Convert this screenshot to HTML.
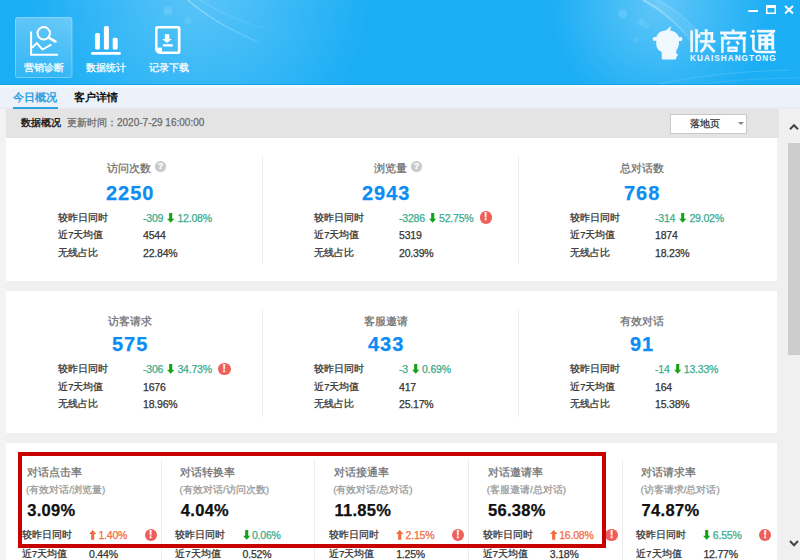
<!DOCTYPE html>
<html><head><meta charset="utf-8">
<style>
@font-face{font-family:"LSC";src:local("Liberation Sans");size-adjust:133%;ascent-override:68%;descent-override:16%;line-gap-override:0%;unicode-range:U+3000-9FFF,U+FF00-FFEF}
*{margin:0;padding:0;box-sizing:border-box}
html,body{width:800px;height:560px;overflow:hidden}
body{position:relative;background:#f0f0f0;font-family:"LSC","Liberation Sans",sans-serif;color:#333;-webkit-text-stroke:.25px currentColor}
.a{position:absolute;white-space:nowrap}
#hdr{left:0;top:0;width:800px;height:85px;background:#1caef5;overflow:hidden}
.nav{color:#fff;font-size:10px;line-height:12px}
#tabs{left:0;top:85px;width:800px;height:24px;background:linear-gradient(#fafcff 0,#f7fafd 1.5px,#e9f2fa 4px,#edf1f9 8px,#edf1f9 21.5px,#e6e9ee 24px)}
#sec{left:6px;top:109px;width:773px;height:29px;background:#e4e4e4}
.card{background:#fff}
.sep{background:#ececec;width:1px}
.ttl{font-size:11.4px;color:#6e6e6e;line-height:14px}
.big{font-size:20px;font-weight:bold;color:#0c8df4;line-height:22px;letter-spacing:1px}
.lb{font-size:9.8px;color:#333;line-height:12px}
.v{font-size:10.5px;color:#333;line-height:12px;letter-spacing:-.2px}
.g{color:#3aac8d}
.o{color:#f26b3e}
.q{width:11px;height:11px;border-radius:50%;background:#c9c9c9;color:#fff;font-size:9px;font-weight:bold;line-height:11px;text-align:center}
.ex{width:12.5px;height:12.5px;border-radius:50%;background:#ef5f5a;color:#fff;font-size:10px;font-weight:bold;line-height:12.5px;text-align:center}
.ar{display:inline-block;width:7.4px;height:9.7px;vertical-align:-1px}
.dn{margin:0 2.6px 0 4.2px}
.up{margin:0 2px 0 0}
.sub{font-size:9.9px;color:#999;line-height:12px}
.pct{font-size:16.5px;font-weight:bold;color:#111;line-height:20px;letter-spacing:.3px}
</style></head><body>
<div id="hdr" class="a">
<svg width="800" height="85" style="position:absolute;left:0;top:0">
<defs>
<radialGradient id="gl1" cx="200" cy="-10" r="170" gradientUnits="userSpaceOnUse">
<stop offset="0" stop-color="#fff" stop-opacity=".28"/><stop offset="1" stop-color="#fff" stop-opacity="0"/></radialGradient>
<radialGradient id="gl2" cx="660" cy="5" r="110" gradientUnits="userSpaceOnUse">
<stop offset="0" stop-color="#fff" stop-opacity=".3"/><stop offset="1" stop-color="#fff" stop-opacity="0"/></radialGradient>
<linearGradient id="ln1" x1="188" y1="0" x2="300" y2="40" gradientUnits="userSpaceOnUse"><stop offset="0" stop-color="#fff" stop-opacity=".35"/><stop offset="1" stop-color="#fff" stop-opacity="0"/></linearGradient>
<linearGradient id="ln2" x1="640" y1="0" x2="720" y2="50" gradientUnits="userSpaceOnUse"><stop offset="0" stop-color="#fff" stop-opacity=".35"/><stop offset="1" stop-color="#fff" stop-opacity="0"/></linearGradient>
<linearGradient id="btn" x1="0" y1="0" x2="0" y2="1"><stop offset="0" stop-color="#fff" stop-opacity=".3"/><stop offset="1" stop-color="#fff" stop-opacity=".1"/></linearGradient>
</defs>
<rect width="800" height="85" fill="url(#gl1)"/>
<rect width="800" height="85" fill="url(#gl2)"/>
<path d="M188 0Q212 22 258 42" stroke="url(#ln1)" fill="none" stroke-width="1.5"/>
<path d="M200 0Q232 22 300 38" stroke="url(#ln1)" fill="none" stroke-width="1" opacity=".6"/>
<path d="M643 0Q670 14 692 42" stroke="url(#ln2)" fill="none" stroke-width="2.2"/>
<path d="M658 0Q688 16 712 48" stroke="url(#ln2)" fill="none" stroke-width="1.2" opacity=".7"/>
<path d="M643 0Q670 14 692 42L712 48Q688 16 658 0Z" fill="#fff" fill-opacity=".08"/>
<path d="M655 85Q710 72 790 70" stroke="#fff" stroke-opacity=".14" fill="none" stroke-width="1"/>
<path d="M700 85Q740 78 800 78" stroke="#fff" stroke-opacity=".1" fill="none" stroke-width="1"/>
<circle cx="168" cy="11" r="4.5" fill="#fff" fill-opacity=".13"/>
<circle cx="188" cy="21" r="3.5" fill="#fff" fill-opacity=".1"/>
<circle cx="622.5" cy="14" r="4.5" fill="#fff" fill-opacity=".13"/>
<circle cx="641" cy="22" r="3.5" fill="#fff" fill-opacity=".1"/>
<circle cx="646.5" cy="25.5" r="3" fill="#fff" fill-opacity=".08"/>
<circle cx="636" cy="40" r="3" fill="#fff" fill-opacity=".07"/>
<rect x="15.5" y="17.5" width="56.5" height="60" rx="2" fill="url(#btn)" stroke="#fff" stroke-opacity=".35"/>
<g stroke="#fff" stroke-width="2" fill="none">
<path d="M31.1 31.6V54.8H58"/>
<path d="M32 47.7L36.8 43.1L42.5 49.5L51.4 44.5"/>
<circle cx="43.75" cy="33.3" r="6.2"/>
<path d="M48.6 37.6L55.6 41.6" stroke-width="2.4" stroke-linecap="round"/>
</g>
<g fill="#fff">
<rect x="95.1" y="32.9" width="4.8" height="16.7" rx="1.6"/>
<rect x="103.9" y="26" width="5" height="23.6" rx="1.6"/>
<rect x="112.7" y="37.7" width="5" height="11.9" rx="1.6"/>
<rect x="91.1" y="51.9" width="29.7" height="2.9" rx="1"/>
</g>
<path fill="#fff" fill-rule="evenodd" d="M157.5 26h20.5a2.5 2.5 0 0 1 2.5 2.5v23.1a2.5 2.5 0 0 1-2.5 2.5h-17.5a5.5 5.5 0 0 1-5.5-5.5v-20.1a2.5 2.5 0 0 1 2.5-2.5zM157.6 28.5v19.2h4.3v3.9h15.9v-23.1z"/>
<path fill="#fff" fill-opacity=".75" d="M157.6 47.7h4.3v3.9h-0.8a3.5 3.5 0 0 1-3.5-3.5z"/>
<path fill="#fff" d="M164.9 34.2h4.4v4.8h2.6l-4.8 3.9l-4.9-3.9h2.7z"/>
<rect x="162.9" y="44.2" width="9.9" height="2.3" fill="#fff"/>
<g fill="#fff">
<rect x="748.3" y="10" width="9.7" height="2"/>
<path fill-rule="evenodd" d="M766 5h10v9h-10zM767.5 8h7v4.5h-7z"/>
</g>
<path d="M785 6L793 13.5M793 6L785 13.5" stroke="#fff" stroke-width="2"/>
<g fill="#eef8fe">
<path d="M660.5 31.8C664 30 671 30 674.5 31.8C677.5 33.5 678.8 36 679 37.3L681.2 36.9C682.9 37.2 682.9 40.6 681.2 40.9L679 41C679 44 678.5 47 677.5 48.5C676.8 49.5 676.2 50.5 676.2 52L676.2 53.5C678.2 53.5 678.5 56 676.5 56.5L676.2 58C676.2 59.2 675.5 59.6 674.5 59.6L663.5 59.6C662.3 59.6 661.7 59 661.7 58L661.7 52C659 51 657 49 656.5 46C656.2 44 656.2 42 656.3 40.5L654.1 40.9C652.4 40.6 652.4 37.2 654.1 36.9L656.5 36.8C657 35 658.5 33 660.5 31.8Z"/>
<path d="M664.8 31.8C666.5 29.5 669 28 671.2 26.2C670.6 28 670.2 30 670 31.8Z"/>
</g>
<g fill="#f2faff" stroke="#f2faff" stroke-width=".35">
<!-- 快 -->
<rect x="690.5" y="30.8" width="2.3" height="21.2"/>
<rect x="695.4" y="29.3" width="2.35" height="22.7"/>
<rect x="697.7" y="34.5" width="2.3" height="3.2"/>
<rect x="700.4" y="32.2" width="12.6" height="2.3"/>
<rect x="710.7" y="32.2" width="2.3" height="10.3"/>
<rect x="700" y="40.2" width="15.2" height="2.3"/>
<rect x="705" y="29.3" width="2.3" height="13"/>
</g>
<g stroke="#f2faff" fill="none" stroke-width="2.65">
<path d="M706.2 42Q705.5 48.5 700.5 52"/>
<path d="M707.6 44.5L714.5 52"/>
</g>
<g fill="#f2faff" stroke="#f2faff" stroke-width=".35">
<!-- 商 -->
<rect x="732" y="29.8" width="2.3" height="2.2"/>
<rect x="720.2" y="31.8" width="25.8" height="2.3"/>
<rect x="721.2" y="37" width="24" height="2.3"/>
<rect x="721.2" y="37" width="2.3" height="15.8"/>
<rect x="743" y="37" width="2.3" height="15.8"/>
</g>
<g stroke="#f2faff" fill="none" stroke-width="2.5">
<path d="M724.3 34L727 38"/><path d="M742 34L739.5 38"/>
<path d="M729.6 41.3L727.2 44.6"/><path d="M736.4 41.3L738.8 44.6"/>
<rect x="728.5" y="47.7" width="8" height="3.1" stroke-width="2.3"/>
</g>
<g fill="#f2faff" stroke="#f2faff" stroke-width=".35">
<!-- 通 -->
<rect x="752" y="30.2" width="2.5" height="2.3"/>
<rect x="750.6" y="35" width="3.9" height="2.1"/>
<rect x="752.2" y="35" width="2.3" height="14.5"/>
<rect x="757" y="30" width="18" height="2.3"/>
<path d="M758.5 34.5h15.5v15h-2.5v-4.3h-3.5v4.3h-3.5v-4.3h-3.5v4.3h-2.5zM761 36.5v2.3h3.5v-2.3zM768 36.5v2.3h3.5v-2.3zM761 41v2h3.5v-2zM768 41v2h3.5v-2z" fill-rule="evenodd"/>
</g>
<g stroke="#f2faff" fill="none" stroke-width="2.35">
<path d="M773.5 32.2L768.5 35"/>
<path d="M753.4 48.8Q754.5 52 759.5 52H775.8"/>
</g>
</svg>
<div class="a nav" style="left:24px;top:62px">营销诊断</div>
<div class="a nav" style="left:86px;top:62px">数据统计</div>
<div class="a nav" style="left:149px;top:62px">记录下载</div>
<div class="a" style="left:690px;top:55px;font-size:8.2px;line-height:8px;color:#f2faff;letter-spacing:1.05px;font-weight:bold;-webkit-text-stroke:0">KUAISHANGTONG</div>
</div>
<div class="a" style="left:0;top:84px;width:800px;height:1px;background:#159fe6"></div>
<div id="tabs" class="a">
<div class="a" style="left:13px;top:6px;font-size:11.2px;line-height:13px;color:#259fe3;-webkit-text-stroke:.4px #259fe3">今日概况</div>
<div class="a" style="left:13px;top:22px;width:45px;height:2px;background:#2aa2e4"></div>
<div class="a" style="left:74px;top:6px;font-size:11.2px;line-height:13px;color:#111;font-weight:bold;-webkit-text-stroke:0">客户详情</div>
</div>
<div class="a" style="left:0;top:109px;width:6px;height:451px;background:#f3f3f3"></div>
<div id="sec" class="a">
<div class="a" style="left:15px;top:6.5px;font-size:10.4px;line-height:13px;font-weight:bold;color:#222;-webkit-text-stroke:0">数据概况</div>
<div class="a" style="left:61px;top:7.5px;font-size:10px;line-height:12px;color:#6a6a6a">更新时间：2020-7-29 16:00:00</div>
<div class="a" style="left:664px;top:5px;width:77px;height:20px;background:#fff;border:1px solid #c8c8c8"></div>
<div class="a" style="left:684px;top:9px;font-size:10.4px;line-height:12px;color:#333">落地页</div>
<div class="a" style="left:731.5px;top:13px;width:0;height:0;border-left:3px solid transparent;border-right:3px solid transparent;border-top:3.5px solid #888"></div>
</div>
<div class="a" style="left:779px;top:109px;width:21px;height:451px;background:#f0f0f0"></div>
<div class="a" style="left:788px;top:143px;width:12px;height:212px;background:#cdcdcd"></div>
<svg class="a" style="left:779px;top:109px" width="21" height="451">
<path d="M11 20.3L15 16.2L19 20.3" stroke="#444" stroke-width="2" fill="none"/>
<path d="M11 432L15 436.2L19 432" stroke="#444" stroke-width="2" fill="none"/>
</svg>
<div class="a card" style="left:6px;top:138px;width:771px;height:143px"></div>
<div class="a sep" style="left:262px;top:156px;height:108px"></div>
<div class="a sep" style="left:518px;top:156px;height:108px"></div>
<div class="a card" style="left:6px;top:291px;width:771px;height:142px"></div>
<div class="a sep" style="left:262px;top:309px;height:108px"></div>
<div class="a sep" style="left:518px;top:309px;height:108px"></div>
<div class="a card" style="left:6px;top:443px;width:771px;height:117px"></div>
<div class="a sep" style="left:161px;top:460px;height:100px"></div>
<div class="a sep" style="left:314px;top:460px;height:100px"></div>
<div class="a sep" style="left:468px;top:460px;height:100px"></div>
<div class="a sep" style="left:622px;top:460px;height:100px"></div>
<div class="a ttl" style="left:107px;top:161px">访问次数</div>
<div class="a q" style="left:155px;top:161px">?</div>
<div class="a big" style="left:106px;top:182.0px">2250</div>
<div class="a lb" style="left:58px;top:211.6px">较昨日同时</div>
<div class="a lb" style="left:58px;top:229.2px">近7天均值</div>
<div class="a lb" style="left:58px;top:246.8px">无线占比</div>
<div class="a v g" style="left:143px;top:211.6px">-309<svg class="ar dn" viewBox="0 0 7.4 9.7"><path d="M2.15 0h3.1v5.7h2.15L3.7 9.7L0 5.7h2.15z" fill="#14a314"/></svg>12.08%</div>
<div class="a v" style="left:143px;top:229.2px">4544</div>
<div class="a v" style="left:143px;top:246.8px">22.84%</div>
<div class="a ttl" style="left:374px;top:161px">浏览量</div>
<div class="a q" style="left:411px;top:161px">?</div>
<div class="a big" style="left:362px;top:182.0px">2943</div>
<div class="a lb" style="left:314px;top:211.6px">较昨日同时</div>
<div class="a lb" style="left:314px;top:229.2px">近7天均值</div>
<div class="a lb" style="left:314px;top:246.8px">无线占比</div>
<div class="a v g" style="left:399px;top:211.6px">-3286<svg class="ar dn" viewBox="0 0 7.4 9.7"><path d="M2.15 0h3.1v5.7h2.15L3.7 9.7L0 5.7h2.15z" fill="#14a314"/></svg>52.75%</div>
<div class="a v" style="left:399px;top:229.2px">5319</div>
<div class="a v" style="left:399px;top:246.8px">20.39%</div>
<div class="a ex" style="left:479.5px;top:211.1px">!</div>
<div class="a ttl" style="left:620px;top:161px">总对话数</div>
<div class="a big" style="left:624px;top:182.0px">768</div>
<div class="a lb" style="left:570px;top:211.6px">较昨日同时</div>
<div class="a lb" style="left:570px;top:229.2px">近7天均值</div>
<div class="a lb" style="left:570px;top:246.8px">无线占比</div>
<div class="a v g" style="left:655px;top:211.6px">-314<svg class="ar dn" viewBox="0 0 7.4 9.7"><path d="M2.15 0h3.1v5.7h2.15L3.7 9.7L0 5.7h2.15z" fill="#14a314"/></svg>29.02%</div>
<div class="a v" style="left:655px;top:229.2px">1874</div>
<div class="a v" style="left:655px;top:246.8px">18.23%</div>
<div class="a ttl" style="left:108px;top:313.5px">访客请求</div>
<div class="a big" style="left:112px;top:332.5px">575</div>
<div class="a lb" style="left:58px;top:363.1px">较昨日同时</div>
<div class="a lb" style="left:58px;top:380.7px">近7天均值</div>
<div class="a lb" style="left:58px;top:398.3px">无线占比</div>
<div class="a v g" style="left:143px;top:363.1px">-306<svg class="ar dn" viewBox="0 0 7.4 9.7"><path d="M2.15 0h3.1v5.7h2.15L3.7 9.7L0 5.7h2.15z" fill="#14a314"/></svg>34.73%</div>
<div class="a v" style="left:143px;top:380.7px">1676</div>
<div class="a v" style="left:143px;top:398.3px">18.96%</div>
<div class="a ex" style="left:218px;top:362.6px">!</div>
<div class="a ttl" style="left:364px;top:313.5px">客服邀请</div>
<div class="a big" style="left:368px;top:332.5px">433</div>
<div class="a lb" style="left:314px;top:363.1px">较昨日同时</div>
<div class="a lb" style="left:314px;top:380.7px">近7天均值</div>
<div class="a lb" style="left:314px;top:398.3px">无线占比</div>
<div class="a v g" style="left:399px;top:363.1px">-3<svg class="ar dn" viewBox="0 0 7.4 9.7"><path d="M2.15 0h3.1v5.7h2.15L3.7 9.7L0 5.7h2.15z" fill="#14a314"/></svg>0.69%</div>
<div class="a v" style="left:399px;top:380.7px">417</div>
<div class="a v" style="left:399px;top:398.3px">25.17%</div>
<div class="a ttl" style="left:620px;top:313.5px">有效对话</div>
<div class="a big" style="left:630px;top:332.5px">91</div>
<div class="a lb" style="left:570px;top:363.1px">较昨日同时</div>
<div class="a lb" style="left:570px;top:380.7px">近7天均值</div>
<div class="a lb" style="left:570px;top:398.3px">无线占比</div>
<div class="a v g" style="left:655px;top:363.1px">-14<svg class="ar dn" viewBox="0 0 7.4 9.7"><path d="M2.15 0h3.1v5.7h2.15L3.7 9.7L0 5.7h2.15z" fill="#14a314"/></svg>13.33%</div>
<div class="a v" style="left:655px;top:380.7px">164</div>
<div class="a v" style="left:655px;top:398.3px">15.38%</div>
<div class="a ttl" style="left:26.7px;top:465px">对话点击率</div>
<div class="a sub" style="left:26.0px;top:484px">(有效对话/浏览量)</div>
<div class="a pct" style="left:27.2px;top:500px">3.09%</div>
<div class="a lb" style="left:21.7px;top:529px">较昨日同时</div>
<div class="a lb" style="left:21.7px;top:548px">近7天均值</div>
<div class="a v o" style="left:89.0px;top:529px"><svg class="ar up" viewBox="0 0 7.4 9.7"><path d="M2.15 9.7h3.1V4h2.15L3.7 0L0 4h2.15z" fill="#f26b3e"/></svg>1.40%</div>
<div class="a v" style="left:89.0px;top:548px">0.44%</div>
<div class="a ex" style="left:144.5px;top:528.5px">!</div>
<div class="a ttl" style="left:180.3px;top:465px">对话转换率</div>
<div class="a sub" style="left:179.6px;top:484px">(有效对话/访问次数)</div>
<div class="a pct" style="left:180.8px;top:500px">4.04%</div>
<div class="a lb" style="left:175.3px;top:529px">较昨日同时</div>
<div class="a lb" style="left:175.3px;top:548px">近7天均值</div>
<div class="a v g" style="left:242.6px;top:529px"><svg class="ar up" viewBox="0 0 7.4 9.7"><path d="M2.15 0h3.1v5.7h2.15L3.7 9.7L0 5.7h2.15z" fill="#14a314"/></svg>0.06%</div>
<div class="a v" style="left:242.6px;top:548px">0.52%</div>
<div class="a ttl" style="left:333.9px;top:465px">对话接通率</div>
<div class="a sub" style="left:333.2px;top:484px">(有效对话/总对话)</div>
<div class="a pct" style="left:334.4px;top:500px">11.85%</div>
<div class="a lb" style="left:328.9px;top:529px">较昨日同时</div>
<div class="a lb" style="left:328.9px;top:548px">近7天均值</div>
<div class="a v o" style="left:396.2px;top:529px"><svg class="ar up" viewBox="0 0 7.4 9.7"><path d="M2.15 9.7h3.1V4h2.15L3.7 0L0 4h2.15z" fill="#f26b3e"/></svg>2.15%</div>
<div class="a v" style="left:396.2px;top:548px">1.25%</div>
<div class="a ex" style="left:451.7px;top:528.5px">!</div>
<div class="a ttl" style="left:487.5px;top:465px">对话邀请率</div>
<div class="a sub" style="left:486.8px;top:484px">(客服邀请/总对话)</div>
<div class="a pct" style="left:488.0px;top:500px">56.38%</div>
<div class="a lb" style="left:482.5px;top:529px">较昨日同时</div>
<div class="a lb" style="left:482.5px;top:548px">近7天均值</div>
<div class="a v o" style="left:549.8px;top:529px"><svg class="ar up" viewBox="0 0 7.4 9.7"><path d="M2.15 9.7h3.1V4h2.15L3.7 0L0 4h2.15z" fill="#f26b3e"/></svg>16.08%</div>
<div class="a v" style="left:549.8px;top:548px">3.18%</div>
<div class="a ex" style="left:605.3px;top:528.5px">!</div>
<div class="a ttl" style="left:641.1px;top:465px">对话请求率</div>
<div class="a sub" style="left:640.4px;top:484px">(访客请求/总对话)</div>
<div class="a pct" style="left:641.6px;top:500px">74.87%</div>
<div class="a lb" style="left:636.1px;top:529px">较昨日同时</div>
<div class="a lb" style="left:636.1px;top:548px">近7天均值</div>
<div class="a v g" style="left:703.4px;top:529px"><svg class="ar up" viewBox="0 0 7.4 9.7"><path d="M2.15 0h3.1v5.7h2.15L3.7 9.7L0 5.7h2.15z" fill="#14a314"/></svg>6.55%</div>
<div class="a v" style="left:703.4px;top:548px">12.77%</div>
<div class="a ex" style="left:758.9px;top:528.5px">!</div>
<div class="a" style="left:18px;top:452px;width:588px;height:96px;border:4px solid #c70000"></div>
</body></html>
